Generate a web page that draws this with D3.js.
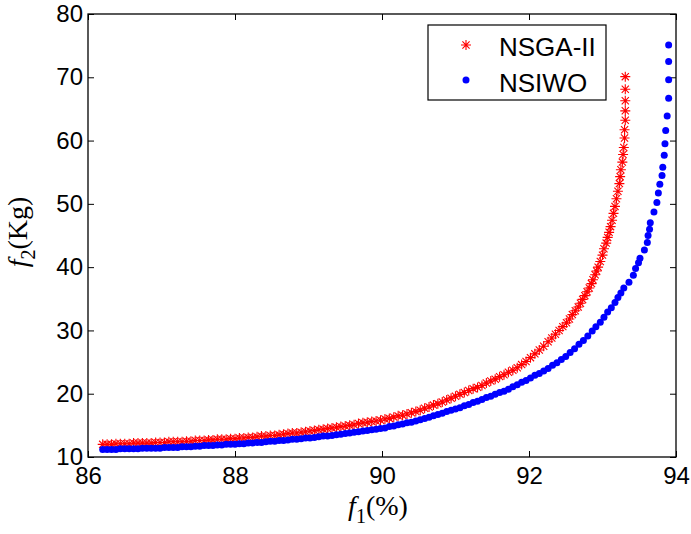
<!DOCTYPE html>
<html>
<head>
<meta charset="utf-8">
<style>
body { margin: 0; background: #fff; }
svg { font-family: "Liberation Sans", Arial, Helvetica, sans-serif; }
.tick text { font-size: 24px; fill: #000; }
.tick line { stroke: #000; }
</style>
</head>
<body>
<svg width="691" height="534"></svg>
<script src="https://cdn.jsdelivr.net/npm/d3@7"></script>
<script>
// f1 (%) vs f2 (Kg)
var nsga2Points = [
  [86.20,12.0],[86.26,12.0],[86.32,12.0],[86.38,12.1],[86.44,12.1],[86.50,12.1],[86.56,12.1],[86.62,12.2],
  [86.68,12.2],[86.74,12.2],[86.80,12.2],[86.86,12.2],[86.92,12.3],[86.98,12.3],[87.04,12.3],[87.10,12.4],
  [87.16,12.4],[87.22,12.4],[87.28,12.4],[87.34,12.5],[87.40,12.5],[87.46,12.6],[87.52,12.6],[87.58,12.6],
  [87.64,12.7],[87.70,12.7],[87.76,12.8],[87.82,12.8],[87.88,12.8],[87.94,12.9],[88.00,12.9],[88.06,13.0],
  [88.12,13.0],[88.18,13.1],[88.24,13.1],[88.30,13.2],[88.36,13.3],[88.42,13.3],[88.48,13.4],[88.54,13.4],
  [88.60,13.5],[88.66,13.6],[88.72,13.7],[88.78,13.8],[88.84,13.8],[88.90,13.9],[88.96,14.0],[89.02,14.1],
  [89.08,14.2],[89.14,14.3],[89.20,14.4],[89.26,14.5],[89.32,14.6],[89.38,14.7],[89.44,14.8],[89.50,14.9],
  [89.56,15.0],[89.62,15.1],[89.68,15.3],[89.74,15.4],[89.80,15.5],[89.86,15.6],[89.92,15.7],[89.98,15.8],
  [90.04,16.0],[90.10,16.1],[90.16,16.3],[90.22,16.5],[90.28,16.6],[90.34,16.8],[90.40,17.0],[90.46,17.2],
  [90.52,17.4],[90.58,17.7],[90.64,17.9],[90.70,18.2],[90.76,18.4],[90.82,18.7],[90.88,19.0],[90.94,19.3],
  [91.00,19.6],[91.06,19.9],[91.12,20.2],[91.18,20.5],[91.24,20.8],[91.30,21.0],[91.36,21.3],[91.42,21.7],
  [91.48,22.0],[91.54,22.3],[91.60,22.7],[91.66,23.0],[91.72,23.4],[91.78,23.7],[91.84,24.1],[91.90,24.6],
  [91.96,25.1],[92.02,25.7],[92.08,26.3],[92.14,26.9],[92.20,27.5],[92.26,28.2],[92.31,28.8],[92.36,29.4],
  [92.41,30.0],[92.46,30.6],[92.51,31.2],[92.55,31.8],[92.59,32.5],[92.63,33.1],[92.67,33.7],[92.70,34.3],
  [92.73,34.9],[92.76,35.5],[92.79,36.1],[92.82,36.7],[92.85,37.4],[92.87,38.0],[92.90,38.8],[92.92,39.4],
  [92.94,40.0],[92.97,40.9],[93.00,41.9],[93.02,42.9],[93.05,43.8],[93.07,44.7],[93.09,45.5],[93.11,46.4],
  [93.13,47.4],[93.15,48.5],[93.17,49.6],[93.19,50.8],[93.21,52.0],[93.23,53.2],[93.24,54.3],[93.25,55.4],
  [93.27,56.6],[93.28,57.8],[93.29,58.9],[93.30,60.4],[93.30,61.7],[93.31,63.2],[93.31,64.7],[93.31,66.3],
  [93.31,68.1],[93.31,70.1]
];

var nsiwoPoints = [
  [86.20,11.2],[86.26,11.2],[86.32,11.2],[86.38,11.2],[86.44,11.3],[86.50,11.3],[86.56,11.3],[86.62,11.3],
  [86.68,11.3],[86.74,11.4],[86.80,11.4],[86.86,11.4],[86.92,11.4],[86.98,11.4],[87.04,11.5],[87.10,11.5],
  [87.16,11.5],[87.22,11.5],[87.28,11.6],[87.34,11.6],[87.40,11.6],[87.46,11.7],[87.52,11.7],[87.58,11.8],
  [87.64,11.8],[87.70,11.8],[87.76,11.9],[87.82,11.9],[87.88,12.0],[87.94,12.0],[88.00,12.0],[88.06,12.1],
  [88.12,12.1],[88.18,12.2],[88.24,12.2],[88.30,12.3],[88.36,12.3],[88.42,12.4],[88.48,12.5],[88.54,12.5],
  [88.60,12.6],[88.66,12.6],[88.72,12.7],[88.78,12.8],[88.84,12.8],[88.90,12.9],[88.96,13.0],[89.02,13.0],
  [89.08,13.1],[89.14,13.2],[89.20,13.3],[89.26,13.3],[89.32,13.4],[89.38,13.5],[89.44,13.6],[89.50,13.7],
  [89.56,13.8],[89.62,13.9],[89.68,14.0],[89.74,14.1],[89.80,14.2],[89.86,14.3],[89.92,14.4],[89.98,14.5],
  [90.04,14.6],[90.10,14.8],[90.16,14.9],[90.22,15.1],[90.28,15.2],[90.34,15.4],[90.40,15.5],[90.46,15.7],
  [90.52,15.9],[90.58,16.1],[90.64,16.3],[90.70,16.5],[90.76,16.7],[90.82,16.9],[90.88,17.2],[90.94,17.4],
  [91.00,17.6],[91.06,17.8],[91.12,18.1],[91.18,18.3],[91.24,18.6],[91.30,18.8],[91.36,19.1],[91.42,19.4],
  [91.48,19.6],[91.54,19.9],[91.60,20.2],[91.66,20.4],[91.72,20.7],[91.78,21.1],[91.84,21.4],[91.90,21.8],
  [91.96,22.1],[92.02,22.5],[92.08,22.9],[92.14,23.2],[92.20,23.6],[92.26,24.0],[92.32,24.5],[92.38,24.9],
  [92.44,25.4],[92.50,25.9],[92.56,26.5],[92.62,27.1],[92.68,27.8],[92.74,28.4],[92.80,29.1],[92.86,29.9],
  [92.91,30.6],[92.97,31.3],[93.02,32.1],[93.07,32.9],[93.12,33.6],[93.17,34.4],[93.21,35.2],[93.25,35.9],
  [93.29,36.7],[93.36,37.6],[93.42,38.7],[93.45,39.8],[93.49,40.7],[93.51,41.4],[93.57,42.7],[93.61,43.9],
  [93.62,45.0],[93.64,46.0],[93.65,47.0],[93.70,48.7],[93.74,50.2],[93.76,51.7],[93.78,53.1],[93.81,54.5],
  [93.82,55.8],[93.84,57.7],[93.85,59.5],[93.86,61.6],[93.88,63.9],[93.90,66.7],[93.90,69.6],[93.90,72.5],
  [93.90,75.1]
];

var xTicks = [86, 88, 90, 92, 94];
var yTicks = [10, 20, 30, 40, 50, 60, 70, 80];
var seriesNames = ["NSGA-II", "NSIWO"];

var svg = d3.select("svg");
var plotL = 88, plotR = 676, plotT = 14, plotB = 457;

var x = d3.scaleLinear().domain([86, 94]).range([plotL, plotR]);
var y = d3.scaleLinear().domain([10, 80]).range([plotB, plotT]);

// axes with inward ticks on all four sides
svg.append("g").attr("transform", "translate(0," + plotB + ")")
    .call(d3.axisBottom(x).tickValues(xTicks).tickSize(-6).tickPadding(10));
svg.append("g").attr("transform", "translate(0," + plotT + ")")
    .call(d3.axisTop(x).tickValues(xTicks).tickSize(-6).tickFormat(""));
svg.append("g").attr("transform", "translate(" + plotL + ",0)")
    .call(d3.axisLeft(y).tickValues(yTicks).tickSize(-6).tickPadding(5));
svg.append("g").attr("transform", "translate(" + plotR + ",0)")
    .call(d3.axisRight(y).tickValues(yTicks).tickSize(-6).tickFormat(""));
svg.selectAll(".domain").remove();

svg.append("rect")
    .attr("x", plotL).attr("y", plotT)
    .attr("width", plotR - plotL).attr("height", plotB - plotT)
    .attr("fill", "none").attr("stroke", "#000").attr("stroke-width", 1.3);

function star(g, cx, cy) {
  var s = 5, d = 3.6;
  g.append("path")
      .attr("d", "M" + (cx - s) + "," + cy + "H" + (cx + s) +
                 "M" + cx + "," + (cy - s) + "V" + (cy + s) +
                 "M" + (cx - d) + "," + (cy - d) + "L" + (cx + d) + "," + (cy + d) +
                 "M" + (cx - d) + "," + (cy + d) + "L" + (cx + d) + "," + (cy - d))
      .attr("stroke", "#ff0000").attr("stroke-width", 1.1).attr("fill", "none");
}

var redG = svg.append("g");
nsga2Points.forEach(function(p) { star(redG, x(p[0]), y(p[1])); });

svg.append("g").selectAll("circle")
    .data(nsiwoPoints)
  .enter().append("circle")
    .attr("cx", function(d) { return x(d[0]); })
    .attr("cy", function(d) { return y(d[1]); })
    .attr("r", 3.5)
    .attr("fill", "#0000ff");

// legend
var leg = svg.append("g");
leg.append("rect")
    .attr("x", 428).attr("y", 25).attr("width", 178).attr("height", 75)
    .attr("fill", "#fff").attr("stroke", "#000").attr("stroke-width", 1.2);
star(leg, 466, 45);
leg.append("circle").attr("cx", 466).attr("cy", 80).attr("r", 3.5).attr("fill", "#0000ff");
leg.selectAll("text.lab")
    .data(seriesNames)
  .enter().append("text")
    .attr("x", 499)
    .attr("y", function(d, i) { return 56 + i * 35.5; })
    .attr("font-size", 26)
    .text(function(d) { return d; });

// axis titles
var xt = svg.append("text")
    .attr("x", 378).attr("y", 515)
    .attr("text-anchor", "middle")
    .attr("font-family", "'Liberation Serif', 'Times New Roman', serif")
    .attr("font-size", 28);
xt.append("tspan").attr("font-style", "italic").text("f");
xt.append("tspan").attr("font-size", 20).attr("dy", 8).text("1");
xt.append("tspan").attr("dy", -8).text("(%)");

var yt = svg.append("text")
    .attr("transform", "translate(27,232) rotate(-90)")
    .attr("text-anchor", "middle")
    .attr("font-family", "'Liberation Serif', 'Times New Roman', serif")
    .attr("font-size", 28);
yt.append("tspan").attr("font-style", "italic").text("f");
yt.append("tspan").attr("font-size", 20).attr("dy", 8).text("2");
yt.append("tspan").attr("dy", -8).text("(Kg)");
</script>
</body>
</html>
